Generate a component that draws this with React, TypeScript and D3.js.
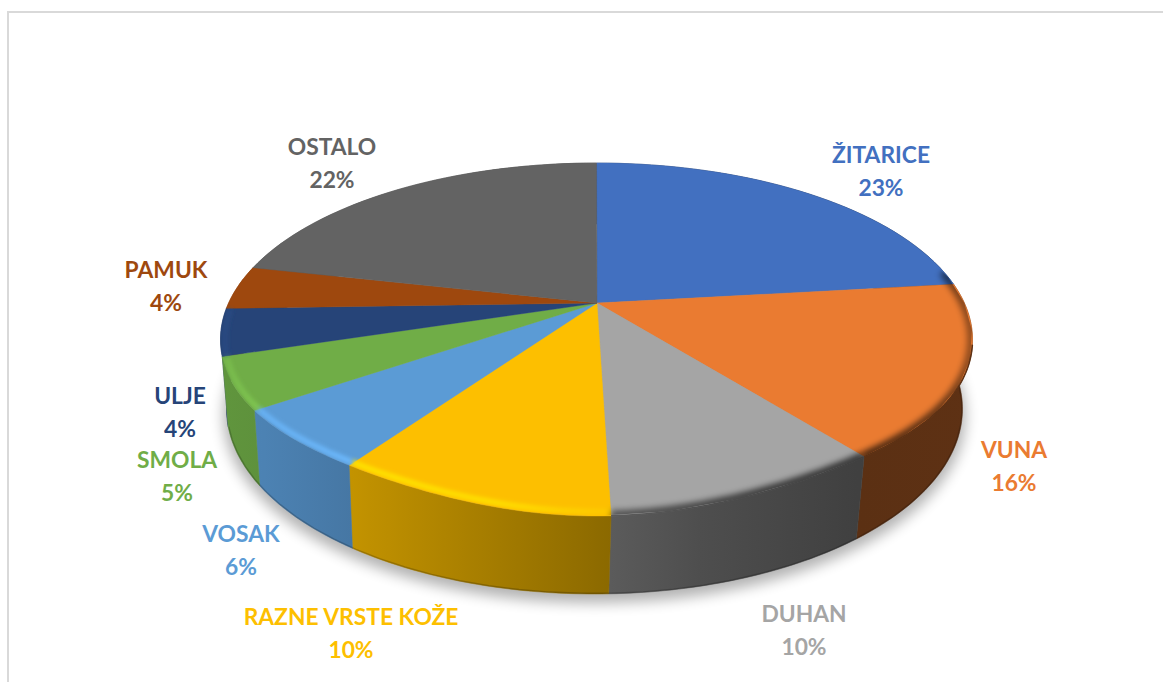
import React from "react";
import * as d3 from "d3";

const categories = ["ŽITARICE", "VUNA", "DUHAN", "RAZNE VRSTE KOŽE", "VOSAK", "SMOLA", "ULJE", "PAMUK", "OSTALO"];
const shares = [23.2, 16.4, 9.9, 9.9, 5.9, 4.9, 4.3, 4.0, 21.5];
const colors = ["#4270c0", "#ea7b31", "#a5a5a5", "#fdbf00", "#5b9bd5", "#70ad47", "#264478", "#9e480e", "#636363"];
const labelCenters = [[881, 154], [1014, 449], [804, 613], [351, 616], [241, 533], [177, 459], [180, 395], [166, 269], [332, 146]];

const W = 1171, H = 682;
const top = { cx: 596.5, cy: 339.5, rx: 376, ry: 176.5, flatten: 0.055 };
const bottom = { cx: 594.5, cy: 409, rx: 368, ry: 185, flatten: 0 };
const apex = { x: 597, y: 303 };
const tilt = (apex.y - top.cy) / top.ry;

// perspective mapping of a circle angle (clockwise from top) to the unit disc rim
const rim = (a: number): [number, number] => {
  const x = Math.sin(a), y = -Math.cos(a);
  const w = 1 + tilt * y;
  return [(x * Math.sqrt(1 - tilt * tilt)) / w, (y + tilt) / w];
};
const onEllipse = (e: typeof top, a: number, inset = 0): [number, number] => {
  const [u, v] = rim(a);
  const f = v > 0 ? 1 - e.flatten * (2 * u * v) ** 2 : 1;
  return [e.cx + u * (e.rx - inset), e.cy + v * f * (e.ry - inset)];
};
const steps = (a0: number, a1: number) => d3.range(0, 41).map((i) => a0 + ((a1 - a0) * i) / 40);
const line = d3.line();

const slices = d3.pie<number>().sort(null)(shares);

const wallOrder = [8, 7, 6, 0, 1, 2, 3, 4, 5];
const wallStops: [number, number][] = [[223, 0.86], [264, 0.84], [351, 0.77], [611, 0.55], [700, 0.47], [857, 0.39], [973, 0.4]];
const glowStops: [number, number][] = [[220, 0.35], [260, 0.8], [350, 1], [500, 0.9], [611, 0.25]];
const darkStops: [number, number][] = [[560, 0.45], [611, 0.55], [760, 0.7], [860, 0.75], [945, 0.6], [973, 0.4]];
const xScale = d3.scaleLinear().domain([220, 973]).range([0, 1]);
const glowSlices = [3, 4, 5, 6];
const darkSlices = [1, 2];

export default function App() {
  const topPath = line(steps(0, Math.PI * 2).map((a) => onEllipse(top, a))) + "Z";
  const bottomArc = line(steps(slices[1].startAngle + 0.2, slices[5].endAngle).map((a) => onEllipse(bottom, a, 0.5))) as string;
  const span = [220, 973];
  const wallPaths = slices.map((s) => {
    const as = steps(s.startAngle, s.endAngle);
    return line([...as.map((a) => onEllipse(top, a)), ...as.slice().reverse().map((a) => onEllipse(bottom, a))]) + "Z";
  });

  return (
    <svg width={W} height={H} style={{ position: "absolute", left: 0, top: 0, background: "#fff" }}>
      <defs>
        <filter id="soft" filterUnits="userSpaceOnUse" x={0} y={0} width={W} height={H}>
          <feGaussianBlur stdDeviation={7} />
        </filter>
        <filter id="glowBlur" filterUnits="userSpaceOnUse" x={0} y={0} width={W} height={H}>
          <feGaussianBlur stdDeviation={2} />
        </filter>
        <filter id="darkBlur" filterUnits="userSpaceOnUse" x={0} y={0} width={W} height={H}>
          <feGaussianBlur stdDeviation={3} />
        </filter>
        <linearGradient id="darkShade" gradientUnits="userSpaceOnUse" x1={span[0]} x2={span[1]} y1={0} y2={0}>
          {darkStops.map(([x, o], i) => (
            <stop key={i} offset={xScale(x)} stopColor="#000" stopOpacity={o} />
          ))}
        </linearGradient>
        {colors.map((c, i) => {
          const rgb = d3.rgb(c);
          const bright = d3.rgb(Math.min(255, rgb.r * 1.2), Math.min(255, rgb.g * 1.2), Math.min(255, rgb.b * 1.2)).formatHex();
          return (
            <React.Fragment key={i}>
              <linearGradient id={`wall${i}`} gradientUnits="userSpaceOnUse" x1={span[0]} x2={span[1]} y1={0} y2={0}>
                {wallStops.map(([x, b], j) => (
                  <stop key={j} offset={xScale(x)} stopColor={d3.rgb(rgb.r * b, rgb.g * b, rgb.b * b).formatHex()} />
                ))}
              </linearGradient>
              <linearGradient id={`glow${i}`} gradientUnits="userSpaceOnUse" x1={span[0]} x2={span[1]} y1={0} y2={0}>
                {glowStops.map(([x, o], j) => (
                  <stop key={j} offset={xScale(x)} stopColor={bright} stopOpacity={o} />
                ))}
              </linearGradient>
            </React.Fragment>
          );
        })}
        <clipPath id="topClip">
          <path d={topPath} />
        </clipPath>
      </defs>

      <path d={`M8,682V12H1163`} fill="none" stroke="#d9d9d9" strokeWidth={2} />

      <ellipse cx={bottom.cx} cy={bottom.cy + 7} rx={bottom.rx + 3} ry={bottom.ry + 2} fill="#000" opacity={0.3} filter="url(#soft)" />

      {wallOrder.map((i) => (
        <path key={i} d={wallPaths[i]} fill={`url(#wall${i})`} stroke={`url(#wall${i})`} strokeWidth={0.5} />
      ))}
      <path d={bottomArc} fill="none" stroke="#000" strokeOpacity={0.2} strokeWidth={1.5} />

      {slices.map((s, i) => {
        const d = line([[apex.x, apex.y], ...steps(s.startAngle, s.endAngle).map((a) => onEllipse(top, a))]) + "Z";
        return <path key={i} d={d} fill={colors[i]} stroke={colors[i]} strokeWidth={0.4} />;
      })}

      <g clipPath="url(#topClip)">
        {darkSlices.map((i) => (
          <path
            key={i}
            d={line(steps(slices[i].startAngle - (i === 1 ? 0.08 : 0), slices[i].endAngle).map((a) => onEllipse(top, a, 1))) as string}
            fill="none"
            stroke="url(#darkShade)"
            strokeWidth={8}
            filter="url(#darkBlur)"
          />
        ))}
        {glowSlices.map((i) => (
          <path
            key={i}
            d={line(steps(slices[i].startAngle, slices[i].endAngle).map((a) => onEllipse(top, a, 4.5))) as string}
            fill="none"
            stroke={`url(#glow${i})`}
            strokeWidth={5}
            filter="url(#glowBlur)"
          />
        ))}
      </g>

      {darkSlices.map((i) => (
        <path
          key={i}
          d={line(steps(slices[i].startAngle + (i === 1 ? 0.35 : 0), slices[i].endAngle).map((a) => onEllipse(top, a, 0))) as string}
          fill="none"
          stroke={`url(#wall${i})`}
          strokeWidth={1.6}
        />
      ))}

      <g fontFamily="Lato, Carlito, sans-serif" fontWeight={700} fontSize={22.8} textAnchor="middle">
        {categories.map((c, i) => (
          <g key={c} fill={colors[i]}>
            <text x={labelCenters[i][0]} y={labelCenters[i][1] + 8.5}>{c}</text>
            <text x={labelCenters[i][0]} y={labelCenters[i][1] + 41.5}>{`${Math.round(shares[i])}%`}</text>
          </g>
        ))}
      </g>
    </svg>
  );
}
